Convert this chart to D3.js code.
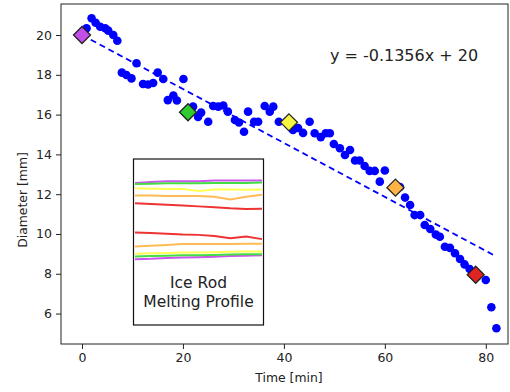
<!DOCTYPE html>
<html>
<head>
<meta charset="utf-8">
<script src="https://cdn.jsdelivr.net/npm/d3@7"></script>
<style>
  body { margin: 0; background: #fff; }
  svg text { font-family: "DejaVu Sans", sans-serif; fill: #222; }
</style>
</head>
<body>
<svg id="chart" width="510" height="392"></svg>
<script>
// measured points: time [min] and diameter [mm]
const times = [0.9, 1.9, 2.7, 3.6, 4.6, 5.2, 6.2, 7.0, 7.9, 8.8, 9.8, 10.8, 12.1, 13.1, 14.1,
  15.0, 16.1, 17.0, 18.1, 18.8, 20.1, 22.0, 23.0, 23.6, 25.0, 26.0, 27.0, 28.0, 28.9, 30.3,
  31.1, 32.1, 32.9, 34.1, 34.9, 36.2, 37.2, 37.9, 39.0, 41.8, 42.8, 43.8, 45.1, 46.1, 47.3,
  48.3, 49.1, 49.9, 51.1, 52.1, 53.1, 54.1, 55.0, 56.0, 57.0, 58.0, 59.0, 60.0, 63.0, 64.0,
  65.0, 65.9, 67.0, 67.9, 69.0, 70.1, 70.9, 71.9, 72.9, 73.9, 74.9, 75.8, 76.8, 80.0, 81.1, 82.1];
const diameters = [20.34, 20.84, 20.62, 20.42, 20.34, 20.22, 20.0, 19.71, 18.11, 17.99, 17.82, 18.58, 17.54, 17.51, 17.59,
  18.11, 17.79, 16.73, 16.96, 16.71, 17.79, 16.4, 15.88, 16.1, 15.64, 16.43, 16.4, 16.46, 16.15, 15.73,
  15.6, 15.14, 16.15, 15.64, 15.64, 16.43, 16.15, 16.4, 15.64, 15.23, 15.33, 15.08, 15.64, 15.06, 14.87,
  15.06, 15.06, 14.52, 14.31, 13.97, 14.22, 13.69, 13.69, 13.42, 13.17, 13.17, 12.63, 13.19, 12.36, 11.83,
  11.46, 10.95, 10.95, 10.45, 10.25, 9.97, 9.86, 9.36, 9.3, 9.03, 8.74, 8.47, 8.24, 7.69, 6.32, 5.26];

// highlighted profile snapshots
const snapTimes = [0, 21, 41, 62.1, 78];
const snapDiameters = [20, 16.12, 15.61, 12.33, 7.95];
const snapColors = ['#c44fe8', '#2ecc2e', '#f5f542', '#ffb347', '#e02424'];

// linear fit
const slope = -0.1356;
const intercept = 20;
const fitRange = [0, 82];

const xTicks = [0, 20, 40, 60, 80];
const yTicks = [6, 8, 10, 12, 14, 16, 18, 20];

// inset: rod edge profiles (mm from rod centre) sampled along the rod
const profilePos = [0, 1, 2, 3, 4, 5, 6, 7, 8];
const topEdges = [
  [9.6, 9.8, 10.0, 10.0, 10.0, 10.2, 10.2, 10.2, 10.2],
  [9.3, 9.4, 9.5, 9.5, 9.5, 9.6, 9.6, 9.6, 9.7],
  [8.2, 8.1, 8.0, 8.0, 7.5, 7.9, 7.9, 7.8, 7.9],
  [6.3, 6.3, 6.2, 6.2, 6.2, 6.0, 5.3, 6.0, 6.5],
  [4.3, 4.1, 3.9, 3.7, 3.5, 3.3, 3.0, 2.8, 2.9]
];
const bottomEdges = [
  [-10.2, -10.1, -9.9, -9.8, -9.7, -9.6, -9.4, -9.3, -9.2],
  [-9.5, -9.4, -9.3, -9.2, -9.2, -9.1, -9.0, -8.9, -8.9],
  [-8.8, -8.7, -8.6, -8.5, -8.5, -8.4, -8.3, -8.2, -8.2],
  [-6.9, -6.7, -6.5, -6.3, -6.3, -6.3, -6.3, -6.2, -6.2],
  [-3.3, -3.4, -3.6, -3.8, -3.9, -4.2, -4.8, -4.3, -5.0]
];
const insetColors = ['#cc55ee', '#44dd44', '#ffff55', '#ffbb55', '#ee3333'];

const svg = d3.select('#chart');

const plotLeft = 61, plotRight = 508, plotTop = 4, plotBottom = 344;

const x = d3.scaleLinear().domain([-4.16, 84.4]).range([plotLeft, plotRight]);
const y = d3.scaleLinear().domain([4.47, 21.56]).range([plotBottom, plotTop]);

// scatter
svg.append('g')
  .selectAll('circle')
  .data(times)
  .enter()
  .append('circle')
  .attr('cx', d => x(d))
  .attr('cy', (d, i) => y(diameters[i]))
  .attr('r', 4.3)
  .attr('fill', '#0000ff')

// fit line
svg.append('path')
  .datum(fitRange)
  .attr('d', d3.line().x(d => x(d)).y(d => y(slope * d + intercept)))
  .attr('stroke', '#0000ff')
  .attr('stroke-width', 1.8)
  .attr('stroke-dasharray', '6,4')
  .attr('fill', 'none')

// diamonds
svg.append('g')
  .selectAll('path')
  .data(snapTimes)
  .enter()
  .append('path')
  .attr('d', 'M0,-8.5L8.5,0L0,8.5L-8.5,0Z')
  .attr('transform', (d, i) => `translate(${x(d)},${y(snapDiameters[i])})`)
  .attr('fill', (d, i) => snapColors[i])
  .attr('stroke', '#222')
  .attr('stroke-width', 1.3)

// frame
svg.append('rect')
  .attr('x', plotLeft).attr('y', plotTop)
  .attr('width', plotRight - plotLeft).attr('height', plotBottom - plotTop)
  .attr('fill', 'none')
  .attr('stroke', '#222')
  .attr('stroke-width', 1)

const xAxis = svg.append('g')
  .attr('transform', `translate(0,${plotBottom})`)
  .call(d3.axisBottom(x).tickValues(xTicks).tickSize(5).tickPadding(4).tickSizeOuter(0))
xAxis.select('.domain').remove()
xAxis.selectAll('text').style('font-size', '12.5px').attr('fill', '#222')
xAxis.selectAll('line').attr('stroke', '#222')

const yAxis = svg.append('g')
  .attr('transform', `translate(${plotLeft},0)`)
  .call(d3.axisLeft(y).tickValues(yTicks).tickSize(5).tickPadding(4).tickSizeOuter(0))
yAxis.select('.domain').remove()
yAxis.selectAll('text').style('font-size', '12.5px').attr('fill', '#222')
yAxis.selectAll('line').attr('stroke', '#222')

svg.append('text')
  .attr('x', 289).attr('y', 382)
  .attr('text-anchor', 'middle')
  .style('font-size', '12.4px')
  .text('Time [min]')

svg.append('text')
  .attr('transform', 'translate(27,200) rotate(-90)')
  .attr('text-anchor', 'middle')
  .style('font-size', '12.4px')
  .text('Diameter [mm]')

svg.append('text')
  .attr('x', 404).attr('y', 61)
  .attr('text-anchor', 'middle')
  .style('font-size', '16px')
  .text(`y = ${slope}x + ${intercept}`)

// inset
const inset = svg.append('g')
inset.append('rect')
  .attr('x', 133.5).attr('y', 159)
  .attr('width', 130).attr('height', 166)
  .attr('fill', '#fff')
  .attr('stroke', '#111')
  .attr('stroke-width', 1.2)

const ix = d3.scaleLinear().domain([0, 8]).range([135, 262]);
const iy = d3.scaleLinear().domain([-27.3, 15.8]).range([325, 159]);
const edgeLine = d3.line().x((d, i) => ix(profilePos[i])).y(d => iy(d));

;[bottomEdges, topEdges].forEach(edges => {
  edges.forEach((e, k) => {
    inset.append('path')
      .attr('d', edgeLine(e))
      .attr('fill', 'none')
      .attr('stroke', insetColors[k])
      .attr('stroke-width', 2)
  })
})

inset.append('text')
  .attr('x', 198.5).attr('y', 288)
  .attr('text-anchor', 'middle')
  .style('font-size', '15.5px')
  .text('Ice Rod')
inset.append('text')
  .attr('x', 198.5).attr('y', 307)
  .attr('text-anchor', 'middle')
  .style('font-size', '15.5px')
  .text('Melting Profile')
</script>
</body>
</html>
